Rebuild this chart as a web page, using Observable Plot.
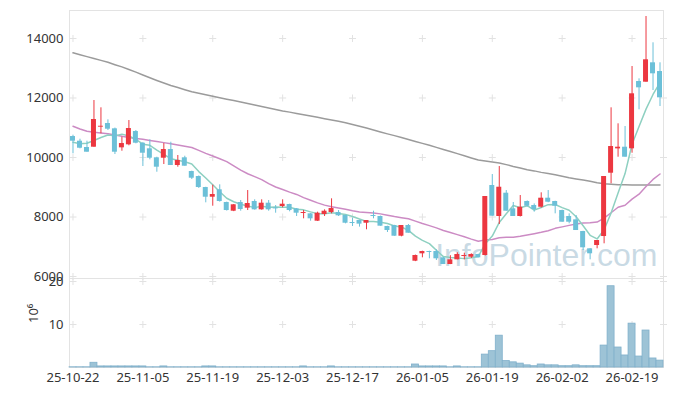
<!DOCTYPE html>
<html><head><meta charset="utf-8">
<script src="https://cdn.jsdelivr.net/npm/d3@7"></script>
<script src="https://cdn.jsdelivr.net/npm/@observablehq/plot@0.6"></script>
<style>
body{margin:0;background:#fff;}
#chart{width:673px;height:396px;position:relative;font-family:"Noto Sans",sans-serif;}
#chart svg{display:block;}
</style></head><body><div id="chart"></div>
<script>
const dates = [
"25-10-22","25-10-23","25-10-24","25-10-27","25-10-28","25-10-29","25-10-30","25-10-31",
"25-11-03","25-11-04","25-11-05","25-11-06","25-11-07","25-11-10","25-11-11","25-11-12","25-11-13","25-11-14",
"25-11-17","25-11-18","25-11-19","25-11-20","25-11-21","25-11-24","25-11-25","25-11-26","25-11-27","25-11-28",
"25-12-01","25-12-02","25-12-03","25-12-04","25-12-05","25-12-08","25-12-09","25-12-10","25-12-11","25-12-12",
"25-12-15","25-12-16","25-12-17","25-12-18","25-12-19","25-12-22","25-12-23","25-12-24","25-12-26","25-12-29","25-12-30",
"26-01-02","26-01-05","26-01-06","26-01-07","26-01-08","26-01-09","26-01-12","26-01-13","26-01-14","26-01-15","26-01-16",
"26-01-19","26-01-20","26-01-21","26-01-22","26-01-23","26-01-26","26-01-27","26-01-28","26-01-29","26-01-30",
"26-02-02","26-02-03","26-02-04","26-02-05","26-02-06","26-02-09","26-02-10","26-02-11","26-02-12","26-02-13",
"26-02-19","26-02-20","26-02-23","26-02-24","26-02-25"];
const open = [10705,10548,10336,10346,11020,11142,10964,10325,10426,10873,
10480,10292,9990,9976,10268,9731,9990,9529,9361,8991,
8665,8914,8487,8195,8487,8296,8521,8241,8464,8305,
8353,8420,8275,8118,8107,7859,8084,8151,8151,8050,
7815,7882,7791,8050,8017,7681,7714,7354,7714,6514,
6763,6840,6840,6628,6403,6561,6672,6649,6739,6706,
9059,8017,8800,8275,8017,8521,8386,8329,8632,8521,
8218,8017,7905,7512,6931,7042,7344,9472,10290,10346,
10292,12554,12531,13183,12890];
const high = [10750,10615,10548,11915,11670,11266,10990,10682,11243,10907,
10500,10595,10010,10470,10514,10067,10043,9540,9380,9000,
9069,9082,8500,8420,8554,8890,8578,8578,8554,8386,
8578,8430,8285,8218,8118,8162,8241,8611,8218,8060,
7960,7890,7882,8195,8030,7690,7720,7714,7748,6720,
6850,6850,6900,6640,6700,6797,6783,6763,6750,8689,
9428,9697,8890,8487,8722,8540,8440,8813,8890,8530,
8230,8107,8050,7520,6940,7210,9361,11670,11132,11042,
13058,12644,14739,13855,13183];
const low = [10124,10290,10178,10346,10796,10907,10100,10211,10393,10460,
9697,9922,9505,9764,9731,9674,9707,9260,8960,8477,
8363,8500,8200,8180,8195,8218,8230,8230,8195,8128,
8309,8174,8017,7939,7859,7850,8017,8107,8017,7771,
7681,7660,7570,7939,7691,7479,7354,7334,7455,6500,
6628,6595,6538,6403,6400,6561,6561,6605,6628,6690,
8027,7748,8195,8017,8000,8340,8162,8300,8480,8107,
7825,7771,7546,6874,6561,6931,7099,9116,10010,10010,
10144,11603,12531,12251,11714];
const close = [10548,10312,10178,11277,11050,10951,10178,10470,10974,10480,
10144,9976,9674,10268,9731,9899,9707,9304,8991,8665,
8756,8521,8218,8410,8252,8454,8241,8464,8241,8272,
8430,8218,8128,8151,7939,8128,8195,8285,8040,7791,
7781,7760,7882,8017,7691,7546,7354,7714,7455,6706,
6840,6807,6595,6403,6561,6739,6706,6739,6628,8689,
8027,9001,8195,8017,8329,8363,8252,8632,8497,8363,
7825,7825,7546,6965,6763,7210,9361,10369,10346,10010,
12141,12342,13284,12813,12006];
const ma5 = [10514,10460,10480,10571,10673,10754,10727,10785,10725,10611,
10449,10409,10250,10108,9959,9910,9856,9782,9526,9313,
9085,8847,8630,8514,8431,8371,8315,8364,8330,8334,
8330,8325,8258,8240,8173,8113,8108,8140,8117,8088,
8018,7931,7851,7846,7826,7779,7698,7664,7552,7355,
7214,7104,6881,6670,6641,6621,6601,6630,6675,7100,
7358,7817,8108,8386,8314,8381,8231,8319,8415,8421,
8314,8228,8011,7705,7385,7262,7569,8134,8810,9459,
10445,11042,11625,12118,12517];
const ma20 = [11050,10960,10880,10850,10820,10795,10760,10715,10675,10640,
10610,10575,10540,10500,10460,10420,10380,10335,10240,10139,
10049,9960,9862,9718,9578,9454,9357,9256,9120,9009,
8924,8836,8759,8653,8563,8475,8399,8348,8300,8257,
8208,8170,8153,8133,8105,8060,8016,7978,7939,7861,
7781,7711,7634,7546,7478,7408,7334,7256,7186,7231,
7243,7305,7321,7321,7353,7393,7438,7484,7536,7619,
7668,7719,7767,7795,7805,7829,7961,8143,8329,8395,
8601,8768,9022,9262,9446];
const ma60 = [13519,13455,13390,13330,13265,13200,13120,13045,12960,12870,
12775,12680,12590,12505,12420,12350,12280,12210,12160,12110,
12060,12010,11960,11915,11865,11815,11765,11715,11665,11615,
11565,11525,11480,11440,11395,11350,11305,11260,11215,11170,
11110,11050,10990,10925,10860,10795,10735,10670,10605,10540,
10475,10410,10340,10270,10200,10130,10060,9985,9915,9880,
9850,9815,9760,9700,9650,9590,9550,9500,9460,9420,
9370,9320,9280,9240,9200,9150,9120,9100,9085,9080,
9075,9075,9075,9075,9075];
const volume = [0.05,0.05,0.05,1.1,0.25,0.25,0.25,0.25,0.25,0.25,
0.25,0.05,0.05,0.25,0.05,0.05,0.05,0.05,0.05,0.25,
0.25,0.05,0.05,0.05,0.05,0.05,0.05,0.05,0.05,0.05,
0.05,0.05,0.05,0.25,0.05,0.05,0.05,0.25,0.05,0.05,
0.05,0.05,0.05,0.05,0.05,0.05,0.05,0.05,0.05,0.7,
0.25,0.25,0.25,0.25,0.05,0.25,0.05,0.05,0.05,3.0,
3.8,7.4,1.5,1.2,0.9,0.5,0.3,0.7,0.5,0.5,
0.3,0.3,0.5,0.3,0.3,0.3,5.1,18.9,4.65,2.8,
10.2,2.55,8.6,2.1,1.6];
const tickDates = ["25-10-22","25-11-05","25-11-19","25-12-03","25-12-17","26-01-05","26-01-19","26-02-02","26-02-19"];
const priceTicks = [6000,8000,10000,12000,14000];
const volTicks = [10,20];
const volLabel = "10⁶";
const watermark = "InfoPointer.com";

const rows = dates.map((d,i)=>({date:d, open:open[i], high:high[i], low:low[i], close:close[i],
  vol:volume[i], ma5:ma5[i], ma20:ma20[i], ma60:ma60[i]}));
const ups = rows.filter(d=>d.close>=d.open);
const downs = rows.filter(d=>d.close<d.open);
const RED="#ec3740", BLUE="#6cc0d8", GRIDC="#e2e2e2", FRAMEC="#e3e3e3";
const crossSym = {draw(ctx,size){const r=Math.sqrt(size/Math.PI);ctx.moveTo(-r,0);ctx.lineTo(r,0);ctx.moveTo(0,-r);ctx.lineTo(0,r);}};
const grid = ys => tickDates.flatMap(x=>ys.map(y=>({x,y})));
const font = "'Noto Sans', sans-serif";
const baseStyle = {background:"transparent", overflow:"visible", fontFamily:font, fontSize:"13px", color:"#333"};

const upper = Plot.plot({
  width:673, height:278, marginTop:10, marginBottom:0, marginLeft:69, marginRight:10,
  style: baseStyle,
  x:{type:"band", domain:dates, padding:0, axis:null},
  y:{domain:[5933,14941], ticks:priceTicks, tickFormat:d=>String(d), tickSize:0, tickPadding:6, label:null},
  marks:[
    Plot.frame({stroke:FRAMEC}),
    Plot.dot(grid(priceTicks), {x:"x", y:"y", symbol:crossSym, r:3.5, stroke:GRIDC, fill:"none", strokeWidth:1}),
    Plot.dot(priceTicks, {y:d=>d, frameAnchor:"right", symbol:crossSym, r:3.5, stroke:GRIDC, fill:"none", strokeWidth:1}),
    Plot.text([watermark], {frameAnchor:"bottom-right", text:d=>d, dx:-6, dy:-13, textAnchor:"end", lineAnchor:"bottom",
      fontSize:32, fontFamily:"'Liberation Sans', Arial, sans-serif", fill:"#b7cedb", fillOpacity:0.75}),
    Plot.line(rows, {x:"date", y:"ma60", stroke:"#9b9b9b", strokeWidth:1.5}),
    Plot.line(rows, {x:"date", y:"ma20", stroke:"#cc8bc4", strokeWidth:1.5}),
    Plot.line(rows, {x:"date", y:"ma5", stroke:"#8ed0c1", strokeWidth:1.5}),
    Plot.ruleX(ups, {x:"date", y1:"low", y2:"high", stroke:RED, strokeWidth:1}),
    Plot.ruleX(downs, {x:"date", y1:"low", y2:"high", stroke:BLUE, strokeWidth:1}),
    Plot.barY(ups, {x:"date", y1:"open", y2:"close", fill:RED, insetLeft:1, insetRight:1}),
    Plot.barY(downs, {x:"date", y1:"open", y2:"close", fill:BLUE, insetLeft:1, insetRight:1})
  ]
});

const lower = Plot.plot({
  width:673, height:118, marginTop:0, marginBottom:29, marginLeft:69, marginRight:10,
  style: baseStyle,
  x:{type:"band", domain:dates, padding:0, ticks:tickDates, tickSize:0, tickPadding:5, label:null},
  y:{domain:[0,20.7], ticks:volTicks, tickSize:0, tickPadding:6, label:null},
  marks:[
    Plot.frame({stroke:FRAMEC}),
    Plot.dot(grid(volTicks), {x:"x", y:"y", symbol:crossSym, r:3.5, stroke:GRIDC, fill:"none", strokeWidth:1}),
    Plot.dot(volTicks, {y:d=>d, frameAnchor:"right", symbol:crossSym, r:3.5, stroke:GRIDC, fill:"none", strokeWidth:1}),
    Plot.barY(rows, {x:"date", y:"vol", fill:"#9dc3d6", stroke:"#80b0cb", strokeWidth:0.8}),
    Plot.text([volLabel], {frameAnchor:"left", text:d=>d, dx:-36, rotate:-90, fontSize:13, fill:"#333"})
  ]
});

const el = document.getElementById("chart");
el.appendChild(upper);
el.appendChild(lower);
</script></body></html>
